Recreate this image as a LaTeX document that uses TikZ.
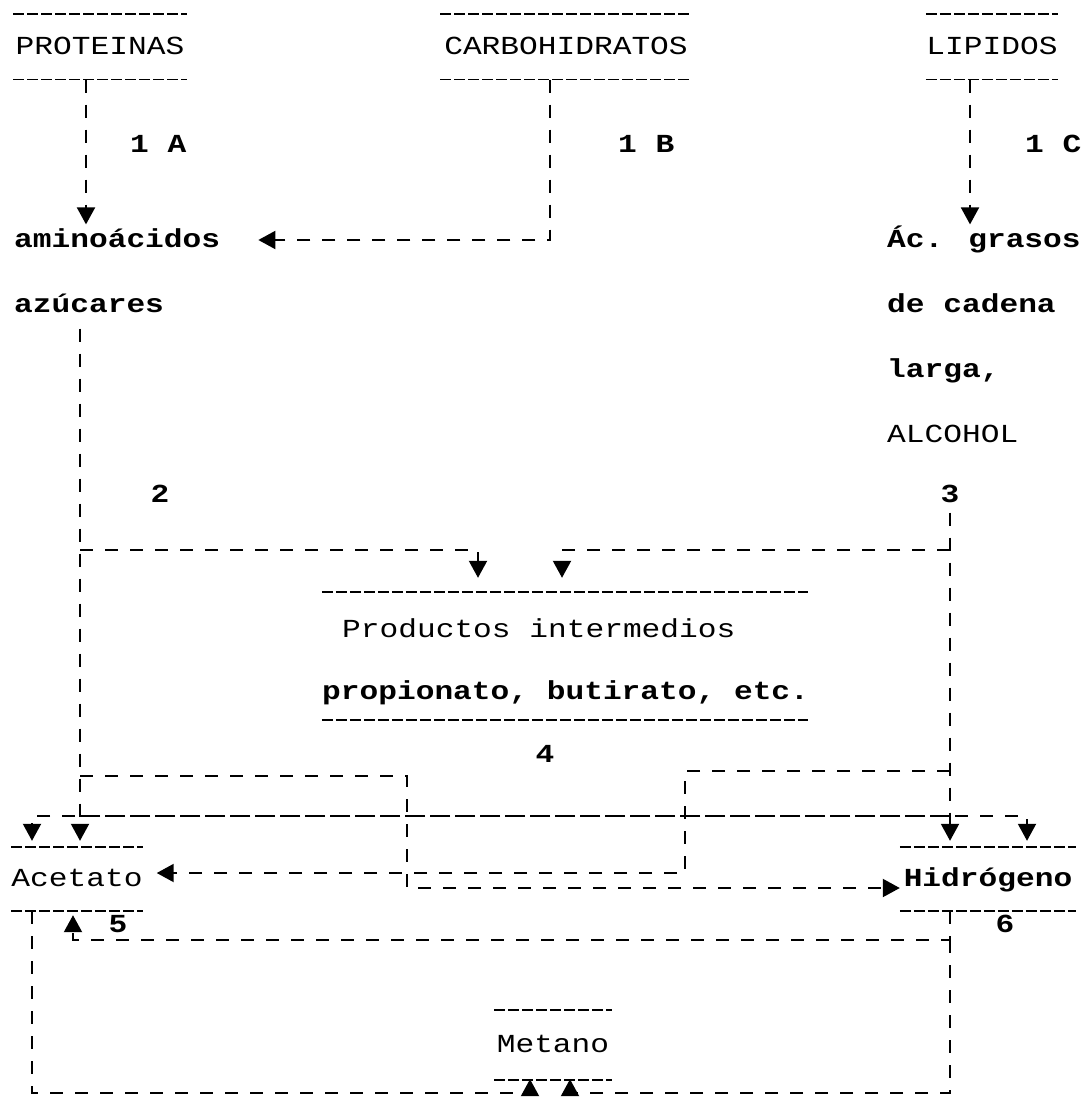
\documentclass[tikz,border=0pt]{standalone}
\usepackage{fontspec}
\newfontfamily\dm{Liberation Mono}[FakeStretch=1.2]
\usetikzlibrary{arrows.meta}
\begin{document}
\begin{tikzpicture}[x=1pt,y=-1pt,
  base/.style={font=\dm\fontsize{26}{26}\selectfont, inner sep=0pt, text height=14.8pt, text depth=0pt},
  txt/.style={base, anchor=west},
  btxt/.style={txt, font=\dm\bfseries\fontsize{26}{26}\selectfont},
  num/.style={base, font=\dm\bfseries\fontsize{26}{26}\selectfont},
  ttl/.style={base, minimum height=65pt},
  frame/.style={inner sep=0pt, minimum height=#1},
  rule/.style={line width=1.6pt, dash pattern=on 11pt off 3pt},
  flow/.style={line width=2pt, dash pattern=on 13pt off 12pt},
  arr/.style={-{Triangle[width=18pt,length=17pt]}}]
\fill[white] (0,0) rectangle (1085,1115);
\useasboundingbox (0,0) rectangle (1085,1115);

% title boxes
\node[ttl, minimum width=173pt] (prot) at (100,47) {PROTEINAS};
\node[ttl, minimum width=251pt] (carb) at (566,47) {CARBOHIDRATOS};
\node[ttl, minimum width=132pt] (lip)  at (992,47) {LIPIDOS};
\node[frame=128pt, minimum width=486pt] (prod) at (565,656) {};
\node[ttl, minimum height=64pt, minimum width=131pt] (acet) at (77,879) {Acetato};
\node[ttl, minimum height=64pt, minimum width=176pt, font=\dm\bfseries\fontsize{26}{26}\selectfont] (hidro) at (988,879) {Hidrógeno};
\node[ttl, minimum height=70pt, minimum width=117pt] (meta) at (553,1045) {Metano};
\foreach \n in {prot,carb,lip,prod,acet,hidro,meta}{
  \draw[rule] (\n.north west) -- (\n.north east);
  \draw[rule] (\n.south west) -- (\n.south east);
}

% texts
\node[btxt] (amino) at (14,240) {aminoácidos};
\node[btxt] (azuc)  at (14,305) {azúcares};
\node[btxt] (acg)   at (887,240) {Ác. grasos};
\node[btxt] (dcad)  at (887,305) {de cadena};
\node[btxt] (larga) at (887,370) {larga,};
\node[txt]  (alc)   at (887,435) {ALCOHOL};
\node[txt]  (pi)    at (342,630) {Productos intermedios};
\node[btxt] (pb)    at (322,692) {propionato, butirato, etc.};

% step labels
\node[num, anchor=west] (l1a) at (130,145) {1 A};
\node[num, anchor=west] (l1b) at (618,145) {1 B};
\node[num, anchor=west] (l1c) at (1025,145) {1 C};
\node[num] (l2) at (160,495) {2};
\node[num] (l3) at (950,495) {3};
\node[num] (l4) at (545,755) {4};
\node[num] (l5) at (118,925) {5};
\node[num] (l6) at (1005,925) {6};

% step 1
\draw[flow,arr,shorten >=8pt] (prot.south -| 86,0) -- (amino.north -| 86,0);
\draw[flow,arr] (carb.south -| 550,0) |- ([xshift=38pt]amino.east);
\draw[flow,arr,shorten >=8pt] (lip.south -| 970,0) -- (acg.north -| 970,0);

% step 2 and 3 trunks
\draw[flow,arr,shorten >=6pt] ([yshift=-16pt]azuc.south -| 80,0) -- (acet.north -| 80,0);
\draw[flow,arr,shorten >=6pt] ([yshift=-10pt]l3.south) -- (hidro.north -| l3.south);

% into intermediate products
\draw[flow,arr,shorten >=14pt] (80,550) -| (prod.north -| 478,0);
\draw[flow,arr,shorten >=14pt] (950,550) -| (prod.north -| 562,0);

% branches from left trunk
\draw[flow,arr] (80,776) -| (407,888) -- (hidro.west |- 0,888);
\draw[flow,arr,shorten >=6pt] (80,816) -| (hidro.north -| 1027,0);

% branches from right trunk
\draw[flow,arr] (950,771) -| (685,873) -- ([xshift=14pt]acet.east |- 0,873);
\draw[flow,arr,shorten >=6pt] (950,816) -| (acet.north -| 32,0);

% step 5: hydrogen -> acetate
\draw[flow,arr] (hidro.south -| 950,0) |- (73,940) -- ([yshift=-4pt]acet.south -| 73,0);

% step 6: to methane
\draw[flow,arr] (acet.south -| 32,0) |- (530,1093) -- ([yshift=1pt]meta.south -| 530,0);
\draw[flow,arr] (950,940) |- (570,1093) -- ([yshift=1pt]meta.south -| 570,0);
\end{tikzpicture}
\end{document}
